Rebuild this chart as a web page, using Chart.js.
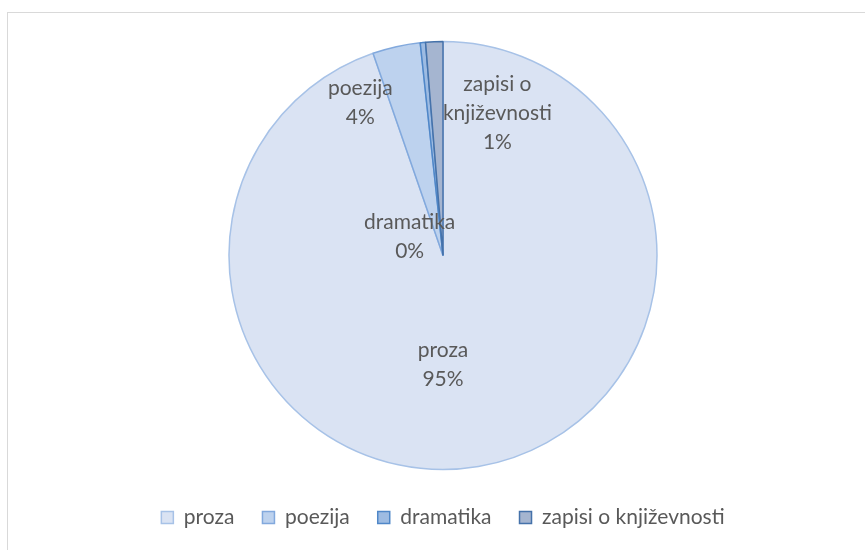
<!DOCTYPE html>
<html>
<head>
<meta charset="utf-8">
<script src="https://cdn.jsdelivr.net/npm/chart.js@4.4.1/dist/chart.umd.min.js"></script>
<style>
    html, body { margin: 0; padding: 0; background: #fff; }
    #wrap { position: relative; width: 865px; height: 550px; overflow: hidden; }
    #frame { position: absolute; left: 7px; top: 12px; width: 900px; height: 600px; border: 1px solid #d9d9d9; }
    #pie { position: absolute; left: 0; top: 0; }
</style>
</head>
<body>
<div id="wrap">
    <div id="frame"></div>
    <canvas id="pie" width="865" height="550"></canvas>
</div>
<script>
// Data (share of works by genre)
const genres = ["proza", "poezija", "dramatika", "zapisi o književnosti"];
const shares = [94.7, 3.6, 0.4, 1.3];
const labelLines = [["proza"], ["poezija"], ["dramatika"], ["zapisi o", "književnosti"]];

const fillColors = ["#dae3f3", "#bdd2ee", "#9dbbe2", "#a5b5d0"];
const edgeColors = ["#a7c2e7", "#82a9dd", "#4f87c8", "#4572aa"];

// where Excel put each data label: angle from 12 o'clock (deg), radius fraction
const labelSpots = [
    { angle: 180, r: 0.51 },
    { angle: 331.5, r: 0.81 },
    { angle: 300, r: 0.18 },
    { angle: 21, r: 0.71 },
];

const total = shares.reduce((a, b) => a + b, 0);
const fontFamily = "Lato, 'Open Sans', sans-serif";
const textColor = "#595959";

// Plugin to draw the data labels
const sliceLabels = {
    id: "sliceLabels",
    afterDatasetsDraw(chart) {
        const ctx = chart.ctx;
        const meta = chart.getDatasetMeta(0);
        ctx.save();
        ctx.font = "21px " + fontFamily;
        ctx.fillStyle = textColor;
        ctx.textAlign = "center";
        ctx.textBaseline = "middle";
        meta.data.forEach((arc, i) => {
            const spot = labelSpots[i];
            const a = (spot.angle - 90) * Math.PI / 180;
            const cx = arc.x + Math.cos(a) * arc.outerRadius * spot.r;
            const cy = arc.y + Math.sin(a) * arc.outerRadius * spot.r;
            const lines = labelLines[i].concat([Math.round(shares[i] / total * 100) + "%"]);
            const lh = 29;
            const y0 = cy - (lines.length - 1) * lh / 2;
            lines.forEach((t, k) => ctx.fillText(t, cx, y0 + k * lh));
        });
        ctx.restore();
    },
};

const pieChart = new Chart(document.getElementById("pie").getContext("2d"), {
    type: "pie",
    data: {
        labels: genres,
        datasets: [
            {
                data: shares,
                backgroundColor: fillColors,
                borderColor: edgeColors,
                borderWidth: 1.5,
                radius: 214,
            },
        ],
    },
    options: {
        responsive: false,
        animation: false,
        layout: { padding: { left: 21, right: 0, top: 32, bottom: 12 } },
        plugins: {
            tooltip: { enabled: false },
            legend: {
                position: "bottom",
                labels: {
                    boxWidth: 12,
                    boxHeight: 12,
                    padding: 28,
                    color: textColor,
                    font: { family: fontFamily, size: 21 },
                },
            },
        },
    },
    plugins: [sliceLabels],
});
</script>
</body>
</html>
